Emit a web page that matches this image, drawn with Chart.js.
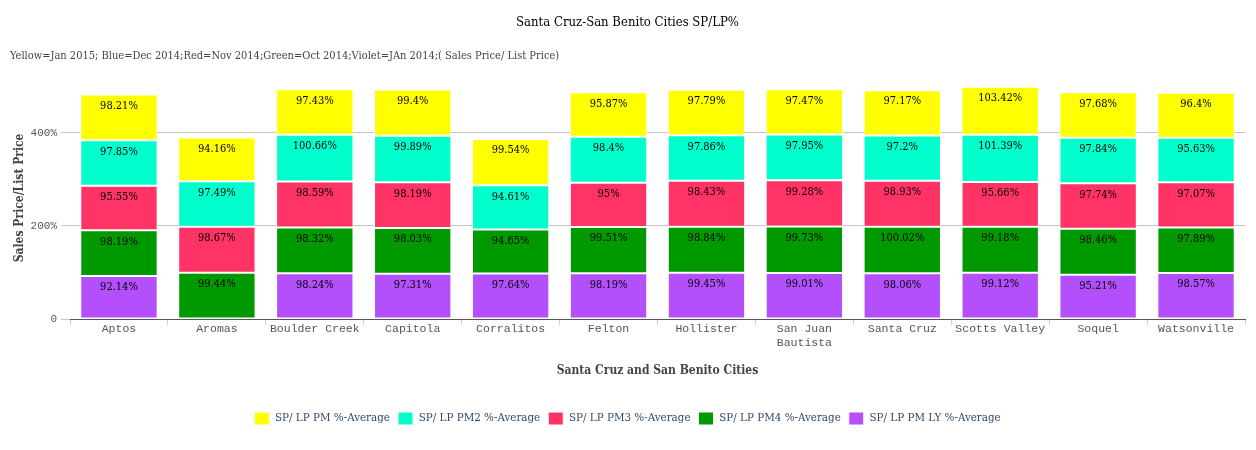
<!DOCTYPE html>
<html>
<head>
<meta charset="utf-8">
<script src="https://cdn.jsdelivr.net/npm/chart.js@4"></script>
<style>
  html, body { margin: 0; padding: 0; background: #fff; }
  #wrap { width: 1256px; height: 450px; }
</style>
</head>
<body>
<div id="wrap"><canvas id="c"></canvas></div>
<script>
const cities = ["Aptos","Aromas","Boulder Creek","Capitola","Corralitos","Felton","Hollister",["San Juan","Bautista"],"Santa Cruz","Scotts Valley","Soquel","Watsonville"];
const pm  = [98.21,94.16,97.43,99.4,99.54,95.87,97.79,97.47,97.17,103.42,97.68,96.4];
const pm2 = [97.85,97.49,100.66,99.89,94.61,98.4,97.86,97.95,97.2,101.39,97.84,95.63];
const pm3 = [95.55,98.67,98.59,98.19,null,95,98.43,99.28,98.93,95.66,97.74,97.07];
const pm4 = [98.19,99.44,98.32,98.03,94.65,99.51,98.84,99.73,100.02,99.18,98.46,97.89];
const ly  = [92.14,null,98.24,97.31,97.64,98.19,99.45,99.01,98.06,99.12,95.21,98.57];
const yTicks = [0,200,400];

const serif = '"DejaVu Serif Condensed", "DejaVu Serif", serif';
const mono = '"Liberation Mono", "DejaVu Sans Mono", monospace';

const labelPlugin = {
  id: 'segLabels',
  afterDatasetsDraw(chart) {
    const ctx = chart.ctx;
    ctx.save();
    ctx.font = '11px ' + serif;
    ctx.fillStyle = '#000';
    ctx.textAlign = 'center';
    ctx.textBaseline = 'middle';
    chart.data.datasets.forEach((ds, i) => {
      const meta = chart.getDatasetMeta(i);
      if (meta.hidden) return;
      meta.data.forEach((el, j) => {
        const v = ds.data[j];
        if (v === null || v === undefined) return;
        ctx.fillText(v + '%', el.x, el.y + 11.5);
      });
    });
    ctx.restore();
  }
};

new Chart(document.getElementById('c'), {
  type: 'bar',
  data: {
    labels: cities,
    datasets: [
      { label: 'SP/ LP PM LY %-Average', data: ly,  backgroundColor: '#b44ffc' },
      { label: 'SP/ LP PM4 %-Average',   data: pm4, backgroundColor: '#009900' },
      { label: 'SP/ LP PM3 %-Average',   data: pm3, backgroundColor: '#ff3366' },
      { label: 'SP/ LP PM2 %-Average',   data: pm2, backgroundColor: '#00ffcc' },
      { label: 'SP/ LP PM %-Average',    data: pm,  backgroundColor: '#ffff00' }
    ].map(d => Object.assign(d, { borderColor: '#ffffff', borderWidth: 1, borderSkipped: false, barPercentage: 1, categoryPercentage: 0.79 }))
  },
  options: {
    responsive: true,
    maintainAspectRatio: false,
    animation: false,
    layout: { padding: { left: 10, right: 11, top: 0, bottom: 15 } },
    plugins: {
      title: {
        display: true,
        text: 'Santa Cruz-San Benito Cities SP/LP%',
        color: '#000',
        font: { family: serif, size: 13, weight: 'normal' },
        padding: { top: 15, bottom: 10 }
      },
      subtitle: {
        display: true,
        text: 'Yellow=Jan 2015; Blue=Dec 2014;Red=Nov 2014;Green=Oct 2014;Violet=JAn 2014;( Sales Price/ List Price)',
        align: 'start',
        color: '#444',
        font: { family: serif, size: 11, weight: 'normal' },
        padding: { top: 9, bottom: 14 }
      },
      legend: {
        position: 'bottom',
        reverse: true,
        labels: {
          color: '#2f4a6d',
          font: { family: serif, size: 11.5 },
          boxWidth: 15,
          boxHeight: 13,
          padding: 8
        }
      },
      tooltip: { enabled: false }
    },
    scales: {
      x: {
        stacked: true,
        grid: { display: true, drawOnChartArea: false, tickLength: 6, color: '#c8d0dc', offset: true },
        border: { display: true, color: '#555', width: 1 },
        ticks: { color: '#555', font: { family: mono, size: 11.5 }, maxRotation: 0, autoSkip: false, padding: -3 },
        title: { display: true, text: 'Santa Cruz and San Benito Cities', color: '#444', font: { family: serif, size: 12, weight: 'bold' }, padding: { top: 17, bottom: 26 } }
      },
      y: {
        stacked: true,
        min: 0,
        max: 520,
        afterBuildTicks(scale) { scale.ticks = yTicks.map(v => ({ value: v })); },
        afterFit(scale) { scale.width = 60; },
        grid: { color: '#c4c4c4', tickLength: 9 },
        border: { display: false },
        ticks: {
          color: '#555',
          font: { family: mono, size: 11 },
          padding: 4,
          callback: v => v === 0 ? '0' : v + '%'
        },
        title: { display: true, text: 'Sales Price/List Price', color: '#444', font: { family: serif, size: 12, weight: 'bold' }, padding: { top: 3, bottom: 2 } }
      }
    }
  },
  plugins: [labelPlugin]
});
</script>
</body>
</html>
